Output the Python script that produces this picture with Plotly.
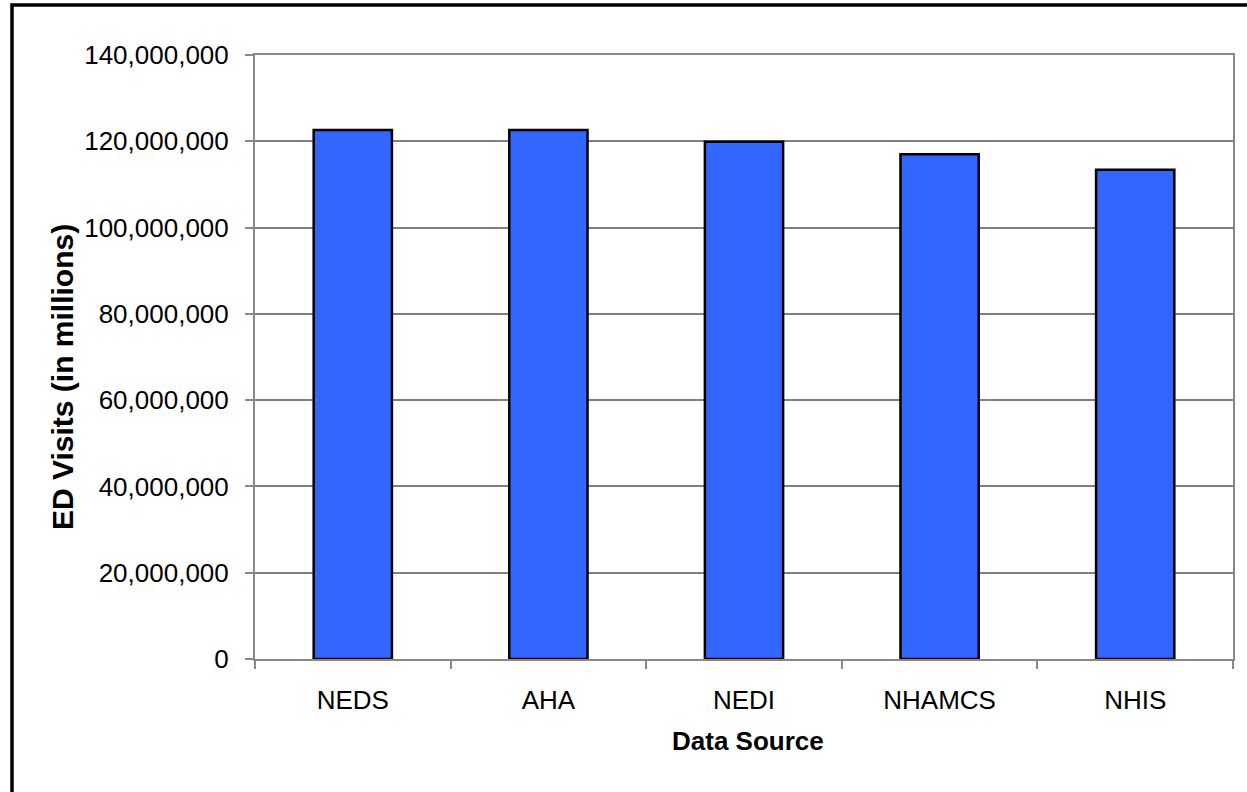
import plotly.graph_objects as go

categories = ["NEDS", "AHA", "NEDI", "NHAMCS", "NHIS"]
ed_visits = [122600000, 122600000, 119900000, 117000000, 113400000]
y_tick_values = [0, 20000000, 40000000, 60000000, 80000000, 100000000, 120000000, 140000000]
y_tick_labels = ["0", "20,000,000", "40,000,000", "60,000,000", "80,000,000",
                 "100,000,000", "120,000,000", "140,000,000"]

FONT = "Liberation Sans, Arial, sans-serif"

fig = go.Figure()
fig.add_trace(go.Bar(
    x=categories, y=ed_visits,
    marker=dict(color="#3366FF", line=dict(color="#000000", width=2.5)),
    width=0.4,
))

W, H = 1247, 792
L, R, T, B = 255, 14, 55, 133
pw = W - L - R
ph = H - T - B

fig.update_layout(
    width=W, height=H,
    margin=dict(l=L, r=R, t=T, b=B, pad=0),
    paper_bgcolor="white", plot_bgcolor="white",
    showlegend=False,
    font=dict(family=FONT, color="#000000"),
    xaxis=dict(
        showline=True, linecolor="#888888", linewidth=2, mirror=True,
        ticks="outside", tickson="boundaries", ticklen=8, tickwidth=2, tickcolor="#888888",
        tickfont=dict(size=26, family=FONT),
        ticklabelstandoff=17,
        showgrid=False,
    ),
    yaxis=dict(
        range=[0, 140000000],
        tickvals=y_tick_values, ticktext=y_tick_labels,
        showline=True, linecolor="#888888", linewidth=2, mirror=True,
        ticks="outside", ticklen=8, tickwidth=2, tickcolor="#888888",
        tickfont=dict(size=26, family=FONT),
        ticklabelstandoff=11,
        showgrid=True, gridcolor="#808080", gridwidth=1.5,
        zeroline=False,
    ),
    annotations=[
        dict(text="<b>Data Source</b>", xref="paper", yref="paper",
             x=(748 - L) / pw, y=-(740.7 - (H - B)) / ph,
             xanchor="center", yanchor="middle", showarrow=False,
             font=dict(size=26, family=FONT, color="#000000")),
        dict(text="<b>ED Visits (in millions)</b>", xref="paper", yref="paper",
             x=(63 - L) / pw, y=((H - B) - 377) / ph, textangle=-90,
             xanchor="center", yanchor="middle", showarrow=False,
             font=dict(size=30, family=FONT, color="#000000")),
    ],
)

# outer chart border (partly cropped in reference)
fig.add_shape(type="rect", xref="paper", yref="paper",
              x0=(12 - L) / pw, x1=(W + 20 - L) / pw,
              y0=-(B + 20) / ph, y1=((H - B) - 5) / ph,
              line=dict(color="#000000", width=3.5), fillcolor="rgba(0,0,0,0)", layer="above")

fig.write_html("out.html", config={"displayModeBar": False},
               post_script="document.body.style.margin='0px';document.body.style.overflow='hidden';")
